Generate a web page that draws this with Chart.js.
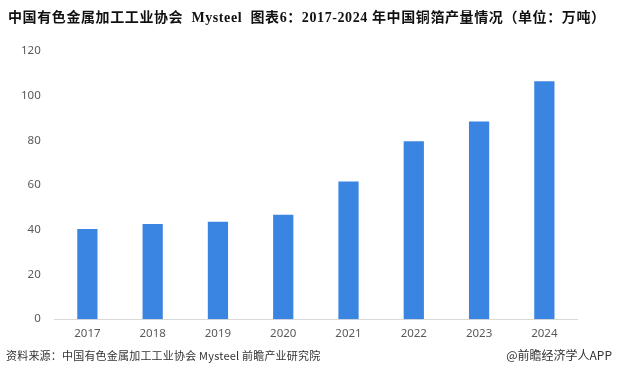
<!DOCTYPE html>
<html>
<head>
<meta charset="utf-8">
<script src="https://cdn.jsdelivr.net/npm/chart.js@4.4.1/dist/chart.umd.min.js"></script>
<style>
  html, body { margin: 0; padding: 0; background: #fff; }
  #wrap { position: relative; width: 617px; height: 369px; overflow: hidden; }
  #chart { position: absolute; left: 0; top: 0; }
  .title {
    position: absolute; left: 8px; top: 6px;
    font-family: "Liberation Serif", "Noto Sans CJK SC", serif; font-weight: bold;
    font-size: 14px; color: #111; white-space: nowrap; letter-spacing: 0.6px;
  }
  .src {
    position: absolute; left: 6px; top: 347px;
    font-family: "Noto Sans CJK SC", sans-serif; font-size: 11px; color: #333;
    white-space: nowrap; letter-spacing: 0.2px;
  }
  .app {
    position: absolute; right: 5px; top: 346px;
    font-family: "Noto Sans CJK SC", sans-serif; font-size: 12px; color: #333;
    white-space: nowrap;
  }
</style>
</head>
<body>
<div id="wrap">
  <canvas id="chart" width="617" height="369"></canvas>
  <div class="title">中国有色金属加工工业协会&nbsp; Mysteel&nbsp; 图表6：2017-2024 年中国铜箔产量情况（单位：万吨）</div>
  <div class="src">资料来源：中国有色金属加工工业协会 Mysteel 前瞻产业研究院</div>
  <div class="app">@前瞻经济学人APP</div>
</div>
<script>
const years = ['2017', '2018', '2019', '2020', '2021', '2022', '2023', '2024'];
const output = [40.4, 42.6, 43.6, 46.7, 61.6, 79.6, 88.5, 106.5];
const yTicks = [0, 20, 40, 60, 80, 100, 120];

const ctx = document.getElementById('chart');
new Chart(ctx, {
  type: 'bar',
  data: {
    labels: years,
    datasets: [{
      label: '铜箔产量',
      data: output,
      backgroundColor: '#3a84e2',
      barPercentage: 0.62,
      categoryPercentage: 0.5
    }]
  },
  options: {
    responsive: false,
    animation: false,
    layout: { padding: { top: 51, right: 40, bottom: 28, left: 15 } },
    plugins: {
      legend: { display: false },
      tooltip: { enabled: false }
    },
    scales: {
      x: {
        grid: { display: false },
        border: { color: '#d9d9d9' },
        ticks: { color: '#595959', font: { family: 'Noto Sans', size: 11.5 }, padding: 0 }
      },
      y: {
        min: 0,
        max: 120,
        afterBuildTicks: (axis) => { axis.ticks = yTicks.map(v => ({ value: v })); },
        grid: { display: false },
        border: { display: false },
        ticks: { color: '#595959', font: { family: 'Noto Sans', size: 11.5 }, padding: 6 }
      }
    }
  }
});
</script>
</body>
</html>
